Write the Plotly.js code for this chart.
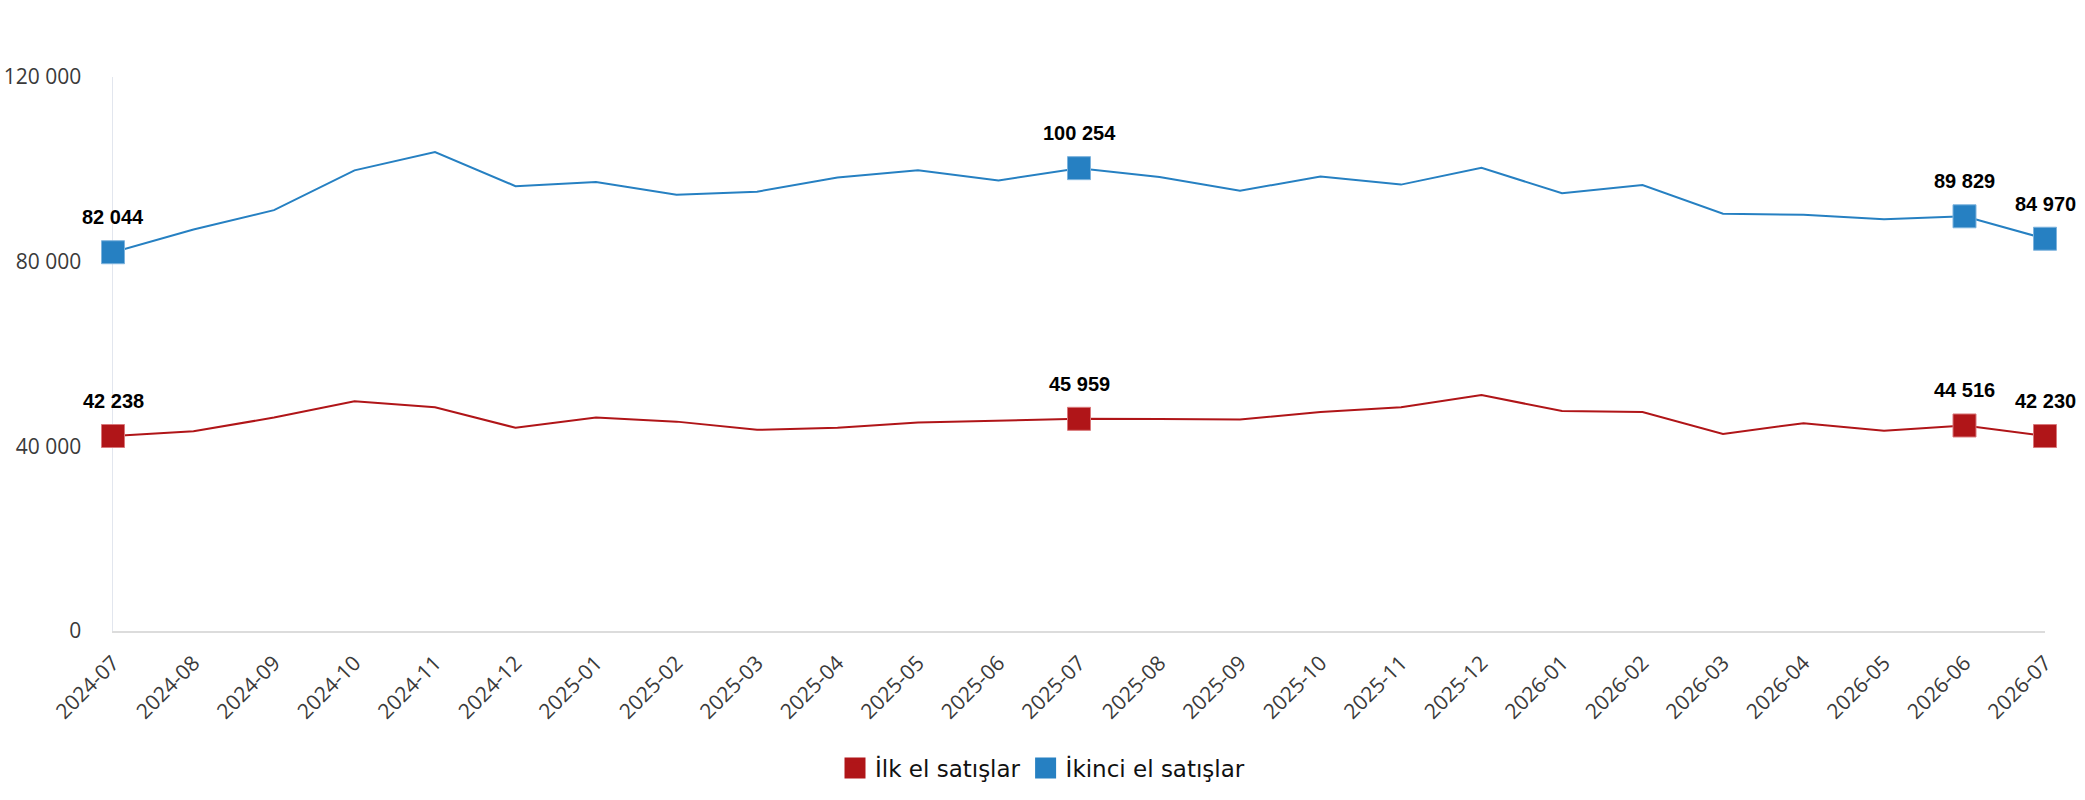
<!DOCTYPE html>
<html>
<head>
<meta charset="utf-8">
<script src="https://cdn.plot.ly/plotly-3.0.1.min.js"></script>
<style>html,body{margin:0;padding:0;background:#fff;}#chart{width:2085px;height:800px;}</style>
</head>
<body>
<div id="chart"></div>
<script>
var months = ["2024-07","2024-08","2024-09","2024-10","2024-11","2024-12","2025-01","2025-02","2025-03","2025-04","2025-05","2025-06","2025-07","2025-08","2025-09","2025-10","2025-11","2025-12","2026-01","2026-02","2026-03","2026-04","2026-05","2026-06","2026-07"];
var ilkEl = [42238,43250,46240,49770,48450,44020,46240,45350,43580,44020,45140,45470,45959,45900,45790,47450,48450,51090,47670,47450,42700,45010,43370,44516,42230];
var ikinciEl = [82044,86970,91170,99780,103760,96360,97250,94480,95150,98240,99780,97570,100254,98350,95360,98460,96690,100340,94810,96580,90390,90170,89180,89829,84970];
var highlightIdx = [0,12,23,24];
var yTickVals = [0,40000,80000,120000];
var yTickText = ["0","40 000","80 000","120 000"];
var seriesNames = ["İlk el satışlar","İkinci el satışlar"];
var red = "#B01518", blue = "#2680C2";

function fmt(v){ return String(v).replace(/\B(?=(\d{3})+(?!\d))/g, " "); }
function pick(arr, idx){ return idx.map(function(i){ return arr[i]; }); }

var traces = [];
[[ilkEl, red, "#d9777a"], [ikinciEl, blue, "#7db3dd"]].forEach(function(s, k){
  traces.push({x: months, y: s[0], type: "scatter", mode: "lines", line: {color: s[1], width: 2}, showlegend: false, hoverinfo: "skip", cliponaxis: false});
  traces.push({x: pick(months, highlightIdx), y: pick(s[0], highlightIdx), type: "scatter", mode: "markers",
    marker: {symbol: "square", size: 23, color: s[1], line: {color: s[2], width: 1}}, showlegend: false, cliponaxis: false});
});
traces.push({x: [null], y: [null], type: "scatter", mode: "markers", name: seriesNames[0], marker: {symbol: "square", size: 16, color: red, line: {color: red, width: 5}}});
traces.push({x: [null], y: [null], type: "scatter", mode: "markers", name: seriesNames[1], marker: {symbol: "square", size: 16, color: blue, line: {color: blue, width: 5}}});

var annotations = [];
[ilkEl, ikinciEl].forEach(function(arr){
  highlightIdx.forEach(function(i){
    annotations.push({x: months[i], y: arr[i], xref: "x", yref: "y", text: fmt(arr[i]), showarrow: false, yshift: 35,
      font: {family: "Liberation Sans, Arial, sans-serif", size: 20, color: "#000", weight: "bold"}});
  });
});

var layout = {
  width: 2085, height: 800,
  margin: {l: 113, r: 40, t: 77, b: 169},
  paper_bgcolor: "#fff", plot_bgcolor: "#fff",
  showlegend: true,
  legend: {orientation: "h", xref: "container", yref: "container", x: 0.5, xanchor: "center", y: 1 - 768/800, yanchor: "middle",
    font: {family: "DejaVu Sans, sans-serif", size: 23, color: "#111"}, itemclick: false},
  xaxis: {type: "category", range: [0, 24], showgrid: false, showline: true, linecolor: "#dcdcdc", linewidth: 1.5,
    tickangle: -45, ticks: "", ticklabelstandoff: 10, zeroline: false, layer: "below traces",
    tickfont: {family: "Open Sans, sans-serif", size: 21, color: "#3a3a3a"}},
  yaxis: {range: [0, 120000], tickvals: yTickVals, ticktext: yTickText, showgrid: false, showline: true, linecolor: "#e2e6ee", linewidth: 1.5,
    zeroline: false, ticks: "", ticklabelstandoff: 26, layer: "below traces",
    tickfont: {family: "Open Sans, sans-serif", size: 21, color: "#3a3a3a"}},
  annotations: annotations
};
Plotly.newPlot("chart", traces, layout, {staticPlot: true, displayModeBar: false});
</script>
</body>
</html>
